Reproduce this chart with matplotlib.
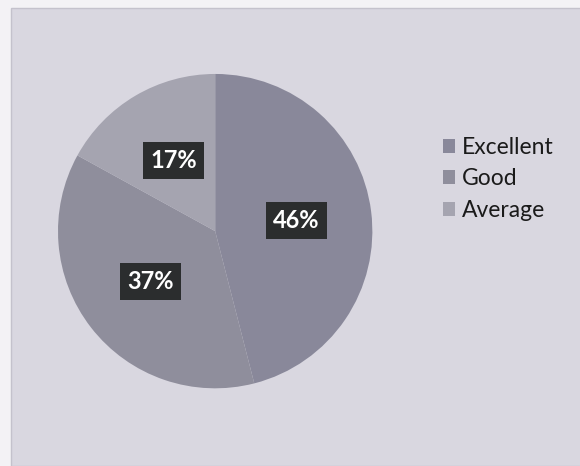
import matplotlib.pyplot as plt
from matplotlib.patches import Rectangle

# Rating shares (pie, clockwise from 12 o'clock)
categories = ["Excellent", "Good", "Average"]
shares = [46, 37, 17]
colors = ["#89889a", "#8f8e9c", "#a5a4b0"]

plt.rcParams['font.family'] = ['Lato', 'DejaVu Sans']

fig = plt.figure(figsize=(5.8, 4.66), dpi=100)
fig.patch.set_facecolor("#f3f2f5")

# scanned chart area background
fig.patches.append(Rectangle((11 / 580, 0), 1, 1 - 8 / 466, transform=fig.transFigure,
                             facecolor="#d9d7e0", edgecolor="#c4c2cc", linewidth=1.0, zorder=-1))

ax = fig.add_axes([0.1, 0.165, 0.542, 0.678])
ax.set_zorder(2)
wedges, texts, autotexts = ax.pie(
    shares, colors=colors, startangle=90, counterclock=False,
    autopct=lambda p: f"{p:.0f}%", pctdistance=0.52,
    wedgeprops=dict(linewidth=0),
    textprops=dict(color="white", fontsize=17, fontweight="bold"))
for t in autotexts:
    t.set_bbox(dict(boxstyle="square,pad=0.3", facecolor="#2b2d2e", edgecolor="none"))
ax.set_xlim(-1, 1)
ax.set_ylim(-1, 1)
ax.set_aspect("equal")

leg = fig.legend(wedges, categories, loc="upper left", bbox_to_anchor=(0.728, 0.75),
                 frameon=False, fontsize=16.5, handlelength=0.55, handleheight=0.55,
                 handletextpad=0.3, labelspacing=0.45)
leg.set_zorder(3)
for txt in leg.get_texts():
    txt.set_color("#1a1a1a")

fig.savefig("out.png", dpi=100, facecolor=fig.get_facecolor())
